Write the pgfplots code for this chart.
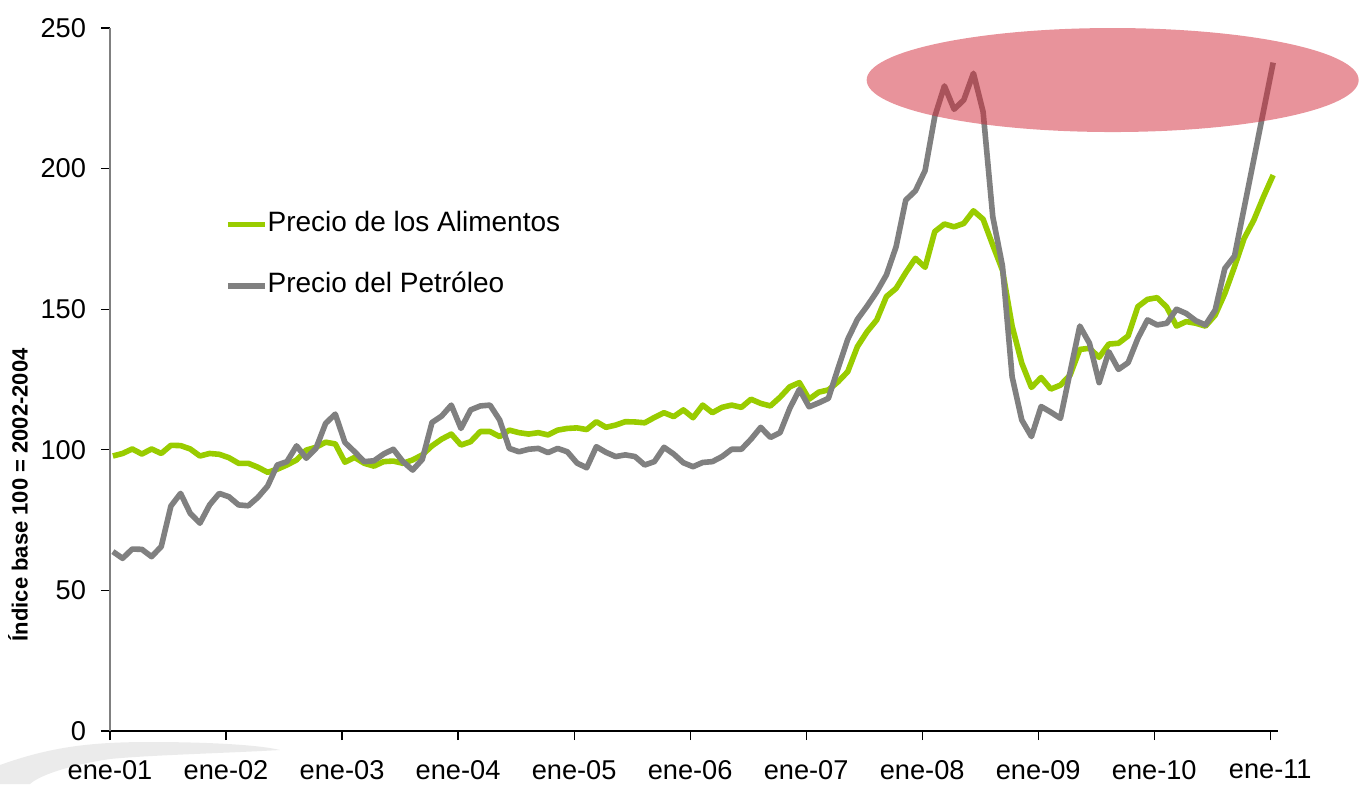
\documentclass[border=0pt]{standalone}
\usepackage{fontspec}
\setmainfont{Liberation Sans}
\usepackage{pgfplots}
\usepackage{pgfplotstable}
\pgfplotsset{compat=1.18}
\definecolor{food}{RGB}{153,204,0}
\definecolor{oil}{RGB}{128,128,128}
\definecolor{ell}{RGB}{210,40,55}

\pgfplotstableread{
m v
0.3 97.8
1.3 98.7
2.3 100.3
3.3 98.5
4.3 100.3
5.3 98.7
6.3 101.6
7.3 101.5
8.3 100.3
9.3 97.8
10.3 98.7
11.3 98.4
12.3 97.2
13.3 95.2
14.3 95.2
15.3 93.8
16.3 92.0
17.3 93.1
18.3 94.6
19.3 96.4
20.3 99.9
21.3 100.9
22.3 102.7
23.3 102.1
24.3 95.6
25.3 97.3
26.3 95.2
27.3 94.2
28.3 95.8
29.3 96.0
30.3 95.2
31.3 96.4
32.3 98.2
33.3 101.4
34.3 103.8
35.3 105.6
36.3 101.7
37.3 102.9
38.3 106.5
39.3 106.5
40.3 104.7
41.3 107.0
42.3 106.1
43.3 105.6
44.3 106.1
45.3 105.3
46.3 107.0
47.3 107.6
48.3 107.8
49.3 107.2
50.3 110.0
51.3 108.0
52.3 108.8
53.3 110.0
54.3 109.9
55.3 109.6
56.3 111.5
57.3 113.2
58.3 111.8
59.3 114.2
60.3 111.4
61.3 115.9
62.3 113.2
63.3 115.1
64.3 115.9
65.3 115.1
66.3 118.0
67.3 116.5
68.3 115.6
69.3 118.7
70.3 122.4
71.3 123.9
72.3 118.0
73.3 120.5
74.3 121.3
75.3 124.2
76.3 127.8
77.3 136.7
78.3 142.0
79.3 146.2
80.3 154.5
81.3 157.4
82.3 163.0
83.3 168.1
84.3 164.9
85.3 177.6
86.3 180.3
87.3 179.3
88.3 180.5
89.3 185.0
90.3 182.0
91.3 172.8
92.3 163.9
93.3 144.0
94.3 130.8
95.3 122.2
96.3 125.7
97.3 121.6
98.3 123.0
99.3 126.6
100.3 135.7
101.3 136.1
102.3 132.9
103.3 137.6
104.3 137.9
105.3 140.5
106.3 150.9
107.3 153.5
108.3 154.1
109.3 150.7
110.3 144.0
111.3 145.6
112.3 145.0
113.3 144.0
114.3 147.9
115.3 155.6
116.3 165.1
117.3 175.2
118.3 181.7
119.3 190.0
120.3 197.7
}\food

\pgfplotstableread{
m v
0.3 63.8
1.3 61.4
2.3 64.7
3.3 64.6
4.3 62.0
5.3 65.6
6.3 80.0
7.3 84.5
8.3 77.4
9.3 73.9
10.3 80.4
11.3 84.5
12.3 83.3
13.3 80.4
14.3 80.1
15.3 83.1
16.3 87.1
17.3 94.6
18.3 95.8
19.3 101.4
20.3 97.0
21.3 100.5
22.3 109.4
23.3 112.7
24.3 102.6
25.3 99.3
26.3 95.8
27.3 96.1
28.3 98.5
29.3 100.2
30.3 95.8
31.3 92.8
32.3 96.6
33.3 109.7
34.3 112.0
35.3 115.9
36.3 107.6
37.3 114.2
38.3 115.6
39.3 115.9
40.3 110.6
41.3 100.5
42.3 99.3
43.3 100.2
44.3 100.5
45.3 99.0
46.3 100.5
47.3 99.3
48.3 95.3
49.3 93.6
50.3 101.1
51.3 99.1
52.3 97.6
53.3 98.2
54.3 97.6
55.3 94.6
56.3 95.8
57.3 100.9
58.3 98.5
59.3 95.4
60.3 94.0
61.3 95.5
62.3 95.8
63.3 97.6
64.3 100.2
65.3 100.2
66.3 103.8
67.3 108.0
68.3 104.4
69.3 106.1
70.3 114.7
71.3 121.5
72.3 115.3
73.3 116.7
74.3 118.3
75.3 129.0
76.3 139.3
77.3 146.4
78.3 151.1
79.3 156.2
80.3 162.2
81.3 172.2
82.3 188.8
83.3 192.1
84.3 199.3
85.3 218.5
86.3 229.4
87.3 221.1
88.3 224.4
89.3 233.9
90.3 220.2
91.3 182.9
92.3 165.4
93.3 126.0
94.3 110.6
95.3 104.7
96.3 115.4
97.3 113.4
98.3 111.2
99.3 127.7
100.3 144.0
101.3 137.9
102.3 123.9
103.3 134.9
104.3 128.6
105.3 131.0
106.3 139.6
107.3 146.2
108.3 144.4
109.3 145.0
110.3 150.0
111.3 148.5
112.3 145.9
113.3 144.4
114.3 149.7
115.3 164.5
116.3 168.9
117.3 186.1
118.3 203.3
119.3 220.5
120.3 237.7
}\oil

\begin{document}
\begin{tikzpicture}
% light watermark swoosh at bottom left
\fill[black!8] (-55pt,-26.5pt) -- (-55pt,-17pt) .. controls (-30pt,-8pt) and (-10pt,-5.5pt) .. (20pt,-5.5pt)
  .. controls (50pt,-5.5pt) and (75pt,-7pt) .. (85pt,-9.5pt)
  .. controls (60pt,-11pt) and (20pt,-12pt) .. (0pt,-14pt)
  .. controls (-20pt,-17pt) and (-35pt,-22pt) .. (-40pt,-26.5pt) -- cycle;
\begin{axis}[
  scale only axis, width=584pt, height=351.5pt,
  xmin=0, xmax=120.8, ymin=0, ymax=250,
  axis x line*=bottom, axis y line*=left,
  x axis line style={black, line width=0.8pt},
  y axis line style={oil, line width=0.8pt},
  xtick={0,12,24,36,48,60,72,84,96,108,120},
  xticklabels={ene-01,ene-02,ene-03,ene-04,ene-05,ene-06,ene-07,ene-08,ene-09,ene-10,ene-11},
  ytick={0,50,100,150,200,250},
  tick align=outside,
  major tick length=4.5pt,
  tick style={black, line width=0.6pt},
  minor tick num=0,
  clip=false,
  ticklabel style={font=\fontsize{13.6}{15}\selectfont, text=black},
  xticklabel style={yshift=-6.5pt},
  yticklabel style={xshift=-4pt},
  /pgf/number format/assume math mode=true,
  ylabel={Índice base 100 = 2002-2004},
  ylabel style={font=\fontsize{11}{12}\selectfont\bfseries, at={(rel axis cs:0,0.336)}, anchor=center, xshift=0pt, yshift=46pt},
  legend style={draw=none, fill=none, at={(rel axis cs:0.093,0.677)}, anchor=west,
    font=\fontsize{14}{16}\selectfont, row sep=18.4pt, column sep=0pt,
    nodes={inner sep=0pt, text height=9.5pt, text depth=2.8pt}},
  legend cell align=left,
  legend image code/.code={\draw[#1] (0pt,0pt) -- (18.5pt,0pt);},
]
\addplot[food, line width=2.8pt, line join=round] table[x=m, y=v] {\food};
\addlegendentry{Precio de los Alimentos}
\addplot[oil, line width=2.8pt, line join=round] table[x=m, y=v] {\oil};
\addlegendentry{Precio del Petróleo}
\fill[ell, fill opacity=0.5] (axis cs:103.7,231.5) ellipse [x radius=123pt, y radius=26pt];
\end{axis}
\pgfresetboundingbox
\path (-55pt,-26.5pt) rectangle (624.5pt,365.5pt);
\end{tikzpicture}
\end{document}
